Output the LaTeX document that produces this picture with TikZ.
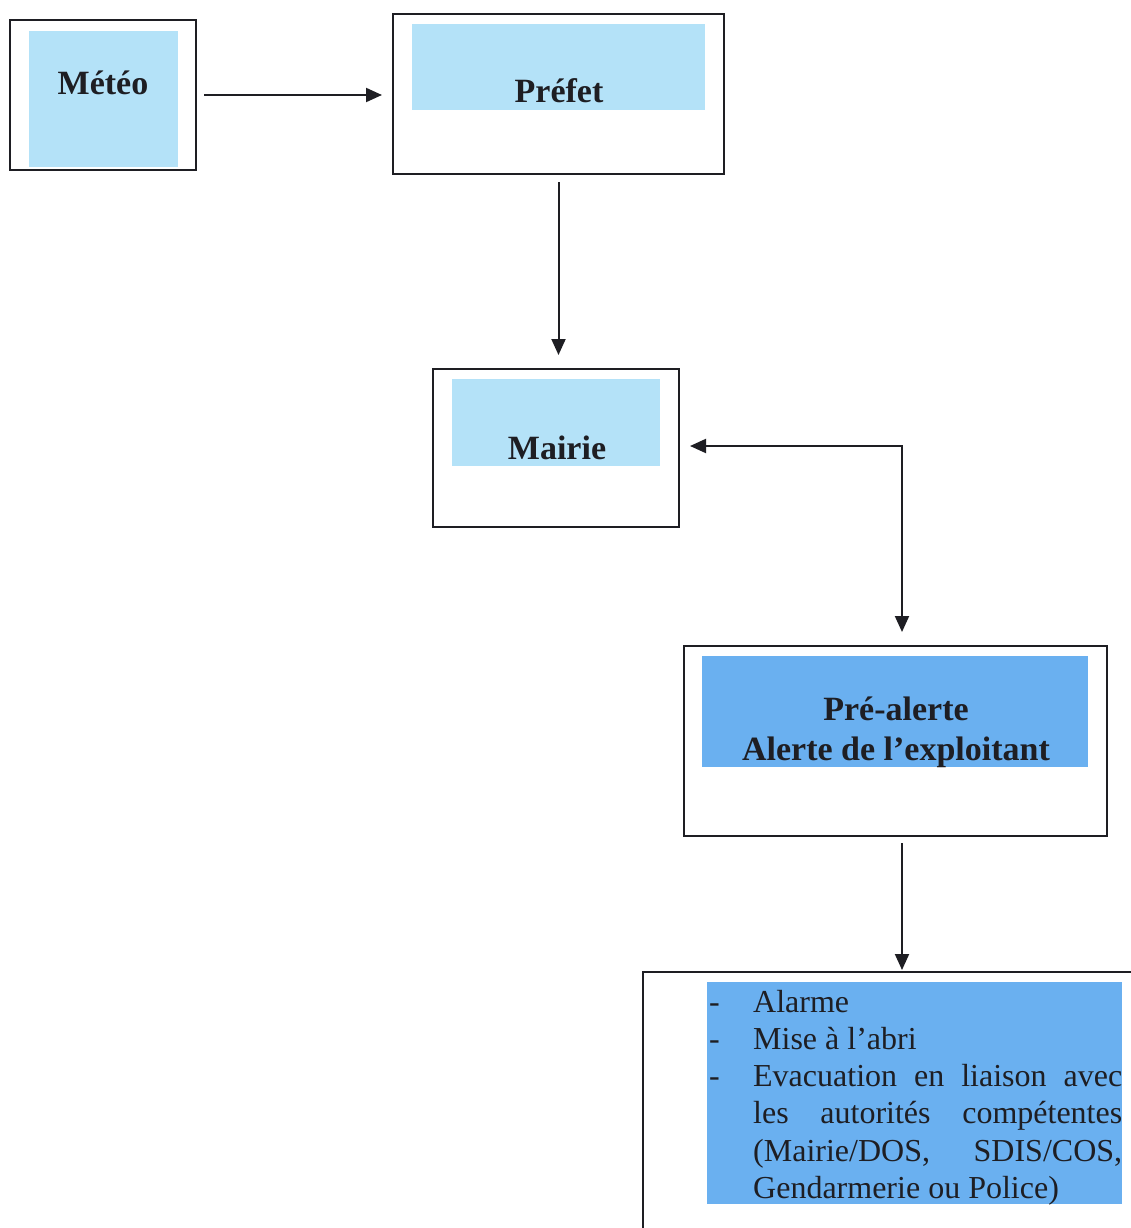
\documentclass[tikz,border=0pt]{standalone}
\usepackage{fontspec}
\setmainfont{Liberation Serif}
\usetikzlibrary{arrows.meta,calc}
\definecolor{lightblue}{RGB}{180,226,248}
\definecolor{midblue}{RGB}{106,176,240}
\definecolor{ink}{RGB}{30,30,35}
\begin{document}
\begin{tikzpicture}[x=1pt,y=-1pt,
  frame/.style={draw=ink, line width=1.9pt, inner sep=0pt, outer sep=0pt},
  title/.style={font=\fontsize{34}{40}\selectfont\bfseries, text=ink, inner sep=0pt, anchor=base},
  arr/.style={draw=ink, line width=2pt, -{Triangle[length=16pt,width=14pt]}},
  darr/.style={draw=ink, line width=2pt, {Triangle[length=16pt,width=14pt]}-{Triangle[length=16pt,width=14pt]}}]
\useasboundingbox (0,0) rectangle (1131,1228);
% fills
\fill[lightblue] (29,31) rectangle (178,167);
\fill[lightblue] (412,24) rectangle (705,110);
\fill[lightblue] (452,379) rectangle (660,466);
\fill[midblue] (702,656) rectangle (1088,767);
\fill[midblue] (707,982) rectangle (1122,1204);
% frames
\node[frame, minimum width=186pt, minimum height=150pt] (meteo) at (103,95) {};
\node[frame, minimum width=331pt, minimum height=160pt] (prefet) at (558.5,94) {};
\node[frame, minimum width=246pt, minimum height=158pt] (mairie) at (556,448) {};
\node[frame, minimum width=423pt, minimum height=190pt] (prealerte) at (895.5,741) {};
\node[frame, minimum width=500pt, minimum height=270pt, anchor=north west] (actions) at (643,972) {};
% texts
\node[title] (tmeteo) at (103,95) {Météo};
\node[title] (tprefet) at (559,103) {Préfet};
\node[title] (tmairie) at (557,459) {Mairie};
\node[title] (tpre1) at (896,720) {Pré-alerte};
\node[title] (tpre2) at (896,760) {Alerte de l’exploitant};
\node[anchor=north west, inner sep=0pt, text width=415pt, align=justify, text=ink,
      font=\fontsize{32}{37.2}\selectfont] (tactions) at (707,986)
{\strut\noindent\makebox[46pt][l]{\hspace{2pt}-}Alarme\par
\noindent\makebox[46pt][l]{\hspace{2pt}-}Mise à l’abri\par
\hangindent=46pt\hangafter=1\noindent\makebox[46pt][l]{\hspace{2pt}-}Evacuation en liaison avec\linebreak les autorités compétentes\linebreak (Mairie/DOS, SDIS/COS,\linebreak Gendarmerie ou Police)\par};
% connectors
\coordinate (corner) at (902,446);
\draw[arr, shorten <=8pt, shorten >=11pt] (meteo.east) -- (meteo.east -| prefet.west);
\draw[arr, shorten <=8pt, shorten >=14pt] (prefet.south) -- (prefet.south |- mairie.north);
\draw[darr, shorten <=11pt, shorten >=14pt] (mairie.east |- corner) -- (corner) -- (corner |- prealerte.north);
\draw[arr, shorten <=7pt, shorten >=2pt] (prealerte.south -| corner) -- (actions.north -| corner);
\end{tikzpicture}
\end{document}
